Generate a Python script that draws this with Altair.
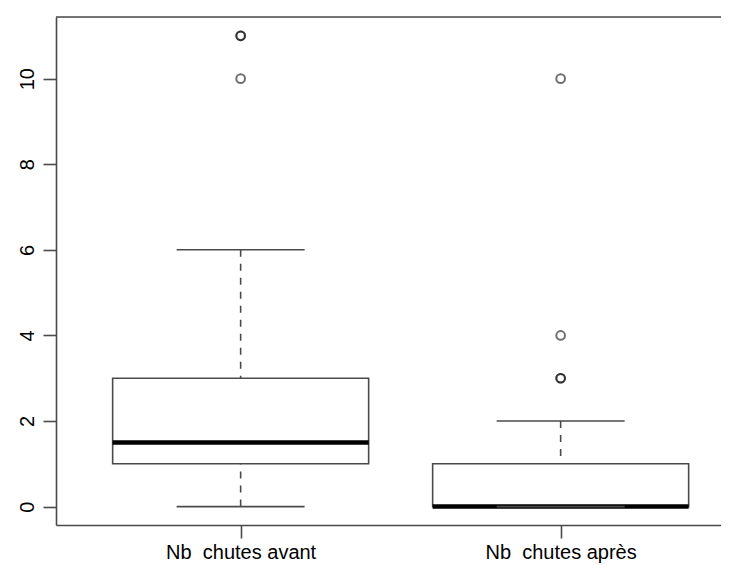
import altair as alt
import pandas as pd

# ---- data ----
categories = ["Nb\u00a0 chutes avant", "Nb\u00a0 chutes après"]
positions = [1, 2]
lower = [0, 0]
q1 = [1, 0]
median = [1.5, 0]
q3 = [3, 1]
upper = [6, 2]
outlier_group = [1, 1, 1, 2, 2, 2, 2]
outlier_value = [10, 11, 11, 3, 3, 4, 10]
y_ticks = [0, 2, 4, 6, 8, 10]

stats = pd.DataFrame({
    "pos": positions, "cat": categories, "lower": lower, "q1": q1,
    "median": median, "q3": q3, "upper": upper,
})
outliers = pd.DataFrame({"pos": outlier_group, "value": outlier_value})
frame_df = pd.DataFrame({"a": [0]})

W, H = 665, 508
LINE = "#4a4a4a"
LW = 1.6
FONT = "Liberation Sans"

label_expr = " : ".join(
    f"datum.value == {p} ? '{c}'" for p, c in zip(positions, categories)
) + " : ''"

xs = alt.Scale(domain=[0.423, 0.423 + W / 320], nice=False, zero=False)
ys = alt.Scale(domain=[-0.43, 11.44], nice=False, zero=False)

x_axis = alt.Axis(values=positions, labelExpr=label_expr, title=None, grid=False,
                  tickSize=13, tickColor=LINE, tickWidth=LW, domainColor=LINE,
                  domainWidth=LW, labelFont=FONT, labelFontSize=20,
                  labelColor="black", labelPadding=4, labelFlush=False)
y_axis = alt.Axis(values=y_ticks, title=None, grid=False, tickSize=13,
                  tickColor=LINE, tickWidth=LW, domainColor=LINE, domainWidth=LW,
                  labelFont=FONT, labelFontSize=20, labelColor="black",
                  labelAngle=270, labelAlign="center", labelBaseline="alphabetic",
                  labelPadding=10, labelFlush=False)


def X(field):
    return alt.X(field, type="quantitative", scale=xs, axis=x_axis)


def Y(field):
    return alt.Y(field, type="quantitative", scale=ys, axis=y_axis)


base = alt.Chart(stats).transform_calculate(
    left="datum.pos - 0.4", right="datum.pos + 0.4",
    cl="datum.pos - 0.2", cr="datum.pos + 0.2",
)

whisk_up = base.mark_rule(stroke=LINE, strokeWidth=LW, strokeDash=[7, 7]).encode(
    x=X("pos"), y=Y("upper"), y2="q3:Q")
whisk_lo = base.mark_rule(stroke=LINE, strokeWidth=LW, strokeDash=[7, 7]).encode(
    x=X("pos"), y=Y("lower"), y2="q1:Q")
cap_up = base.mark_rule(stroke=LINE, strokeWidth=LW).encode(
    x=X("cl"), x2="cr:Q", y=Y("upper"))
cap_lo = base.mark_rule(stroke=LINE, strokeWidth=LW).encode(
    x=X("cl"), x2="cr:Q", y=Y("lower"))
box = base.mark_rect(fill="white", stroke=LINE, strokeWidth=LW).encode(
    x=X("left"), x2="right:Q", y=Y("q1"), y2="q3:Q")
med = base.mark_rule(stroke="black", strokeWidth=4.5, strokeCap="butt").encode(
    x=X("left"), x2="right:Q", y=Y("median"))
pts = alt.Chart(outliers).mark_point(
    shape="circle", filled=False, stroke="black", strokeOpacity=0.8,
    strokeWidth=2, size=75).encode(x=X("pos"), y=Y("value"))
top = alt.Chart(frame_df).mark_rule(stroke=LINE, strokeWidth=LW).encode(
    x=alt.value(0), x2=alt.value(W), y=alt.value(0))

chart = alt.layer(whisk_up, whisk_lo, box, med, cap_up, cap_lo, pts, top).properties(
    width=W, height=H,
    autosize=alt.AutoSizeParams(type="none"),
    padding={"left": 48, "top": 9, "right": 0, "bottom": 38},
).configure_view(stroke=None).configure(background="white")

chart.save("out.html", embed_options={"renderer": "svg", "actions": False})
